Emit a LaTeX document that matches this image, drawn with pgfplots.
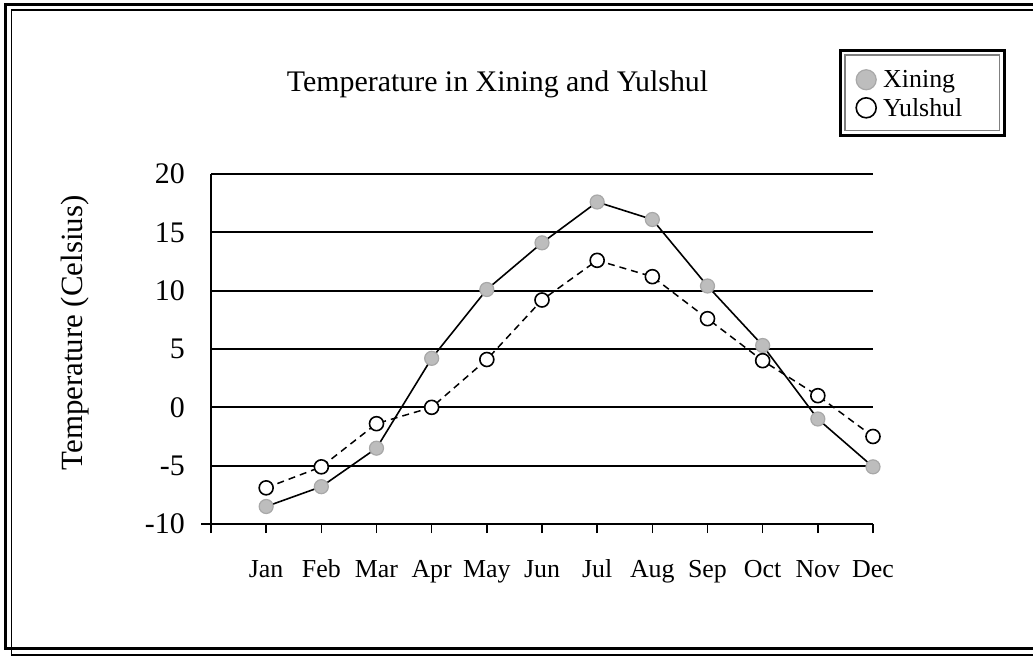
\documentclass[border=0pt]{standalone}
\usepackage{fontspec}
\setmainfont{Liberation Serif}
\usepackage{pgfplots}
\pgfplotsset{compat=1.18}
\definecolor{xfill}{HTML}{BDBDBD}
\definecolor{xedge}{HTML}{A8A8A8}
\begin{document}
\begin{tikzpicture}
\useasboundingbox (0bp,0bp) rectangle (1033bp,-656bp);
\fill[white] (0bp,0bp) rectangle (1033bp,-656bp);
\begin{axis}[
  at={(211bp,-524bp)}, anchor=south west,
  scale only axis, width=662bp, height=350bp,
  xmin=0, xmax=12, ymin=-10, ymax=20,
  axis x line*=bottom, axis y line*=left,
  axis line style={line width=2bp, black},
  xtick={0,1,...,12},
  xticklabels={,Jan,Feb,Mar,Apr,May,Jun,Jul,Aug,Sep,Oct,Nov,Dec},
  ytick={-10,-5,...,20},
  yticklabels={-10,-5,0,5,10,15,20},
  tick align=outside, major tick length=9bp,
  xtick style={line width=1.6bp, black},
  ytick style={draw=none},
  ymajorgrids, grid style={line width=1.8bp, black},
  xticklabel style={font=\fontsize{26}{31}\selectfont, anchor=base, inner sep=0pt, yshift=-44bp},
  yticklabel style={font=\fontsize{30}{36}\selectfont, anchor=east, inner sep=0pt, xshift=-17bp},
  title={Temperature in Xining and Yulshul},
  title style={at={(axis description cs:0.4328,1.22)}, anchor=base, inner sep=0pt, font=\fontsize{30}{36}\selectfont},
  ylabel={Temperature (Celsius)},
  ylabel style={at={(axis description cs:-0.2054,0.5457)}, anchor=center, font=\fontsize{31}{37}\selectfont},
  legend style={at={(axis description cs:0.9743,1.2286)}, anchor=west, draw=none, fill=none,
    inner xsep=0pt, inner ysep=0pt, font=\fontsize{26}{30}\selectfont, column sep=5bp, row sep=5bp,
    nodes={inner sep=2bp}},
  legend cell align=left,
  legend image code/.code={\draw[#1, mark size=10bp] plot coordinates {(0bp,0bp)};},
  clip=false,
]
\addplot[black, line width=1.6bp, mark=*, mark size=7bp,
  mark options={solid, fill=xfill, draw=xedge, line width=1.2bp}]
  coordinates {(1,-8.5) (2,-6.8) (3,-3.5) (4,4.2) (5,10.1) (6,14.1) (7,17.6) (8,16.1) (9,10.4) (10,5.3) (11,-1.0) (12,-5.1)};
\addlegendentry{Xining}
\addplot[black, line width=1.5bp, dash pattern=on 7bp off 5bp, mark=*, mark size=7bp,
  mark options={solid, fill=white, draw=black, line width=1.6bp}]
  coordinates {(1,-6.9) (2,-5.1) (3,-1.4) (4,0) (5,4.1) (6,9.2) (7,12.6) (8,11.2) (9,7.6) (10,4.0) (11,1.0) (12,-2.5)};
\addlegendentry{Yulshul}
\draw[line width=1.6bp] (axis cs:0,-10) -- ++(-10bp,0bp);
\end{axis}
\begin{scope}[x=1bp,y=-1bp]
\draw[line width=3bp] (840,50.5) rectangle (1004,135);
\draw[line width=1.2bp, gray] (845,55) rectangle (999.5,130.5);
\draw[line width=3bp] (1040,4.5) -- (5.5,4.5) -- (5.5,648.5) -- (1040,648.5);
\draw[line width=1.5bp] (1040,10) -- (11.5,10) -- (11.5,655) -- (1040,655);
\end{scope}
\end{tikzpicture}
\end{document}
